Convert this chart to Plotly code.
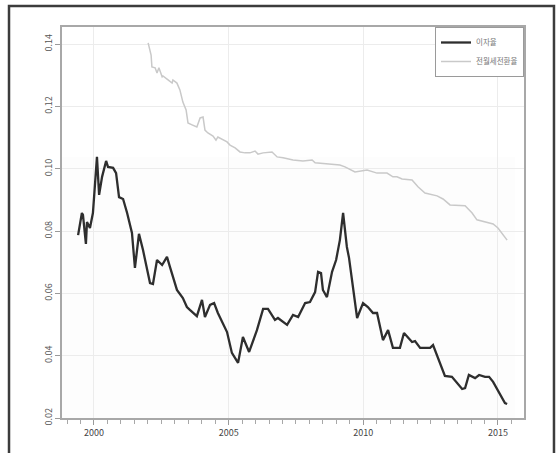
import plotly.graph_objects as go

# 이자율 (interest rate), decimal year vs rate
rate_year = [1999.41, 1999.55, 1999.59, 1999.70, 1999.74, 1999.85, 1999.96, 2000.11, 2000.19,
             2000.30, 2000.45, 2000.52, 2000.71, 2000.82, 2000.93, 2001.08, 2001.23, 2001.41,
             2001.52, 2001.67, 2001.82, 2002.08, 2002.19, 2002.34, 2002.53, 2002.71, 2002.82,
             2003.08, 2003.30, 2003.45, 2003.56, 2003.68, 2003.82, 2004.01, 2004.12, 2004.31,
             2004.46, 2004.60, 2004.94, 2005.12, 2005.35, 2005.53, 2005.76, 2006.05, 2006.28,
             2006.46, 2006.72, 2006.83, 2007.17, 2007.39, 2007.58, 2007.84, 2008.02, 2008.21,
             2008.32, 2008.43, 2008.50, 2008.65, 2008.84, 2008.99, 2009.13, 2009.25, 2009.39,
             2009.47, 2009.62, 2009.77, 2009.99, 2010.17, 2010.36, 2010.51, 2010.73, 2010.92,
             2011.10, 2011.36, 2011.51, 2011.66, 2011.81, 2011.92, 2012.11, 2012.29, 2012.48,
             2012.59, 2012.77, 2013.03, 2013.29, 2013.48, 2013.67, 2013.78, 2013.92, 2014.15,
             2014.30, 2014.52, 2014.67, 2014.82, 2015.00, 2015.26, 2015.34]
rate_value = [0.0787, 0.0858, 0.0852, 0.0759, 0.0829, 0.0810, 0.0858, 0.1038, 0.0916,
              0.0974, 0.1025, 0.1006, 0.1003, 0.0986, 0.0909, 0.0903, 0.0858, 0.0794,
              0.0682, 0.0791, 0.0739, 0.0633, 0.0630, 0.0707, 0.0691, 0.0717, 0.0685,
              0.0611, 0.0585, 0.0556, 0.0547, 0.0537, 0.0527, 0.0579, 0.0524, 0.0563,
              0.0569, 0.0537, 0.0476, 0.0409, 0.0377, 0.0460, 0.0412, 0.0482, 0.0550,
              0.0550, 0.0515, 0.0521, 0.0499, 0.0531, 0.0524, 0.0569, 0.0572, 0.0604,
              0.0669, 0.0665, 0.0611, 0.0588, 0.0669, 0.0707, 0.0771, 0.0858, 0.0749,
              0.0714, 0.0611, 0.0521, 0.0569, 0.0556, 0.0537, 0.0537, 0.0450, 0.0482,
              0.0425, 0.0425, 0.0473, 0.0457, 0.0444, 0.0447, 0.0425, 0.0425, 0.0425,
              0.0434, 0.0393, 0.0335, 0.0332, 0.0312, 0.0293, 0.0296, 0.0338, 0.0328,
              0.0338, 0.0332, 0.0332, 0.0316, 0.0290, 0.0248, 0.0245]

# 전월세전환율 (jeonse-to-monthly-rent conversion rate)
conv_year = [2002.01, 2002.12, 2002.15, 2002.27, 2002.34, 2002.41, 2002.53, 2002.56, 2002.75,
             2002.90, 2002.93, 2003.08, 2003.19, 2003.30, 2003.42, 2003.49, 2003.64, 2003.82,
             2003.94, 2004.05, 2004.12, 2004.23, 2004.42, 2004.53, 2004.60, 2004.79, 2004.94,
             2005.05, 2005.24, 2005.42, 2005.61, 2005.79, 2005.98, 2006.09, 2006.28, 2006.61,
             2006.80, 2007.02, 2007.39, 2007.76, 2008.10, 2008.21, 2008.65, 2009.13, 2009.32,
             2009.69, 2010.14, 2010.51, 2010.88, 2011.10, 2011.25, 2011.44, 2011.81, 2012.03,
             2012.29, 2012.74, 2012.96, 2013.22, 2013.78, 2014.04, 2014.22, 2014.59, 2014.82,
             2015.00, 2015.19, 2015.34]
conv_value = [0.1404, 0.1365, 0.1327, 0.1324, 0.1307, 0.1324, 0.1295, 0.1298, 0.1285,
              0.1275, 0.1285, 0.1275, 0.1253, 0.1214, 0.1189, 0.1147, 0.1141, 0.1134,
              0.1163, 0.1166, 0.1124, 0.1115, 0.1105, 0.1092, 0.1102, 0.1092, 0.1086,
              0.1076, 0.1067, 0.1054, 0.1051, 0.1051, 0.1057, 0.1047, 0.1051, 0.1054,
              0.1038, 0.1035, 0.1028, 0.1025, 0.1028, 0.1019, 0.1015, 0.1012, 0.1006,
              0.0990, 0.0996, 0.0986, 0.0986, 0.0974, 0.0974, 0.0967, 0.0964, 0.0942,
              0.0922, 0.0913, 0.0903, 0.0884, 0.0881, 0.0858, 0.0836, 0.0829, 0.0823,
              0.0810, 0.0787, 0.0771]

y_ticks = [0.02, 0.04, 0.06, 0.08, 0.10, 0.12, 0.14]
y_tick_text = ["0.02", "0.04", "0.06", "0.08", "0.10", "0.12", "0.14"]
x_ticks = [2000, 2005, 2010, 2015]

FONT = "Noto Sans CJK KR, Liberation Sans, sans-serif"

fig = go.Figure()
fig.add_trace(go.Scatter(x=rate_year, y=rate_value, mode="lines", name="이자율",
                         line=dict(color="#2e2e2e", width=2.3)))
fig.add_trace(go.Scatter(x=conv_year, y=conv_value, mode="lines", name="전월세전환율",
                         line=dict(color="#c9c9c9", width=1.5)))

fig.update_layout(
    width=556, height=453, autosize=False,
    margin=dict(l=62, r=32, t=27, b=35),
    paper_bgcolor="white", plot_bgcolor="white",
    font=dict(family=FONT, size=9, color="#555555"),
    showlegend=True,
    legend=dict(x=1, y=1, xanchor="right", yanchor="top",
                bordercolor="#9a9a9a", borderwidth=1, bgcolor="white",
                font=dict(size=7.5, color="#777777"),
                itemwidth=30, tracegroupgap=0),
    xaxis=dict(range=[1998.812, 2015.967], tickmode="array", tickvals=x_ticks,
               ticks="outside", ticklen=5, tickcolor="#9a9a9a",
               minor=dict(dtick=0.5, tick0=2000, ticks="outside", ticklen=4,
                          tickcolor="#a8a8a8", showgrid=False),
               showline=True, linecolor="#a8a8a8", linewidth=1.5, mirror=True,
               showgrid=True, gridcolor="#ececec", gridwidth=1, zeroline=False,
               tickfont=dict(size=9, color="#444444")),
    yaxis=dict(range=[0.02, 0.1455], tickmode="array", tickvals=y_ticks,
               ticktext=y_tick_text, tickangle=-90,
               ticks="outside", ticklen=5, tickcolor="#9a9a9a",
               showline=True, linecolor="#a8a8a8", linewidth=1.5, mirror=True,
               showgrid=True, gridcolor="#ececec", gridwidth=1, zeroline=False,
               tickfont=dict(size=9, color="#555555")),
    shapes=[
        # pale panel over the lower part of the grid
        dict(type="rect", xref="paper", yref="y", x0=0, x1=0.98, y0=0.02, y1=0.1038,
             fillcolor="#fdfdfd", line=dict(width=0), layer="between"),
        # outer frame
        dict(type="rect", xref="paper", yref="paper", x0=-0.1147, x1=1.0649,
             y0=-0.2, y1=1.0537, line=dict(color="#3c3c3c", width=2.5),
             fillcolor="rgba(0,0,0,0)", layer="above"),
    ],
)

fig.write_html("out.html")
